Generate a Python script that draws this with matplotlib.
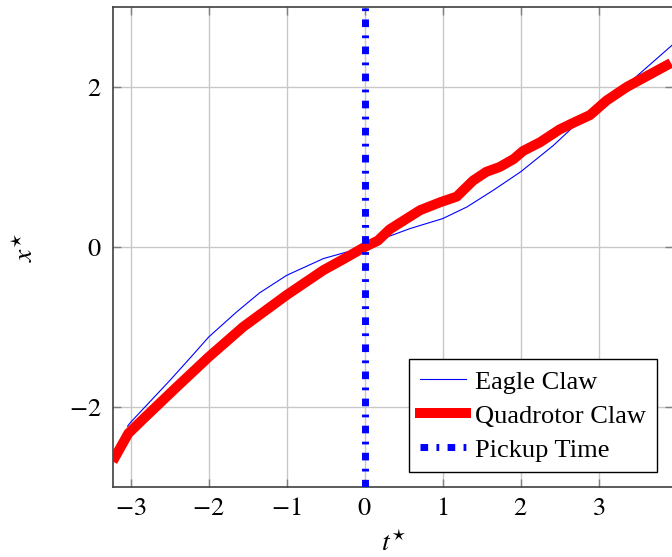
import matplotlib.pyplot as plt
import numpy as np

plt.rcParams['font.family'] = ['Liberation Serif', 'DejaVu Serif']
plt.rcParams['mathtext.fontset'] = 'stix'

# Eagle claw trajectory
eagle_t = [-3.04, -3.0, -2.75, -2.5, -2.25, -2.0, -1.64, -1.35, -1.0, -0.53, 0.0, 0.15,
           0.58, 1.0, 1.31, 1.65, 2.0, 2.42, 2.76, 3.0, 3.40, 3.95]
eagle_x = [-2.24, -2.19, -1.93, -1.67, -1.40, -1.125, -0.81, -0.575, -0.354, -0.145, 0.0,
           0.075, 0.23, 0.355, 0.5, 0.71, 0.94, 1.27, 1.58, 1.81, 2.06, 2.53]

# Quadrotor claw trajectory
quad_t = [-3.2, -3.03, -2.84, -2.41, -2.0, -1.56, -1.0, -0.53, -0.26, 0.0, 0.17, 0.32,
          0.71, 0.97, 1.18, 1.39, 1.56, 1.73, 1.91, 2.03, 2.25, 2.5, 2.67, 2.89, 3.10,
          3.36, 3.87]
quad_x = [-2.625, -2.33, -2.15, -1.75, -1.375, -1.0, -0.60, -0.29, -0.145, 0.0, 0.08,
          0.22, 0.46, 0.56, 0.63, 0.83, 0.94, 1.0, 1.10, 1.2, 1.31, 1.47, 1.55, 1.65,
          1.83, 2.0, 2.27]

pickup_t = 0.0

xticks = [-3, -2, -1, 0, 1, 2, 3]
yticks = [-2, 0, 2]

fig = plt.figure(figsize=(6.72, 5.57), dpi=100)
ax = fig.add_axes([113/672, 70/557, 560/672, 480/557])

ax.plot(eagle_t, eagle_x, color='blue', lw=0.8, label='Eagle Claw', zorder=3)
ax.plot(quad_t, quad_x, color='red', lw=7.2, label='Quadrotor Claw', zorder=4)
ax.axvline(pickup_t, color='blue', lw=5, ls=(0, (1.1, 1.2, 0.4, 1.2)),
           dash_capstyle='butt', label='Pickup Time', zorder=5)

ax.set_xlim(-3.227, 3.953)
ax.set_ylim(-3.0, 3.0)
ax.set_xticks(xticks)
ax.set_yticks(yticks)
ax.set_xticklabels(['$%d$' % v for v in xticks])
ax.set_yticklabels(['$%d$' % v for v in yticks])
ax.grid(True, color='#c8c8c8', lw=1.0)
ax.set_axisbelow(True)
ax.tick_params(direction='in', length=6, width=1.0, color='#808080',
               top=True, right=True, labelsize=19)
ax.tick_params(axis='x', pad=8)
ax.tick_params(axis='y', pad=8)
for s in ax.spines.values():
    s.set_color('#404040')
    s.set_linewidth(1.2)

ax.set_xlabel(r'$t^{\star}$', fontsize=20, labelpad=8)
ax.set_ylabel(r'$x^{\star}$', fontsize=20, labelpad=22)

leg = ax.legend(loc='lower right', bbox_to_anchor=(0.971, 0.031), borderaxespad=0,
                fontsize=19, fancybox=False, framealpha=1, edgecolor='black',
                handlelength=1.75, borderpad=0.4, labelspacing=0.4,
                handletextpad=0.35)
leg.get_frame().set_linewidth(1.0)

fig.savefig('out.png', dpi=100)
